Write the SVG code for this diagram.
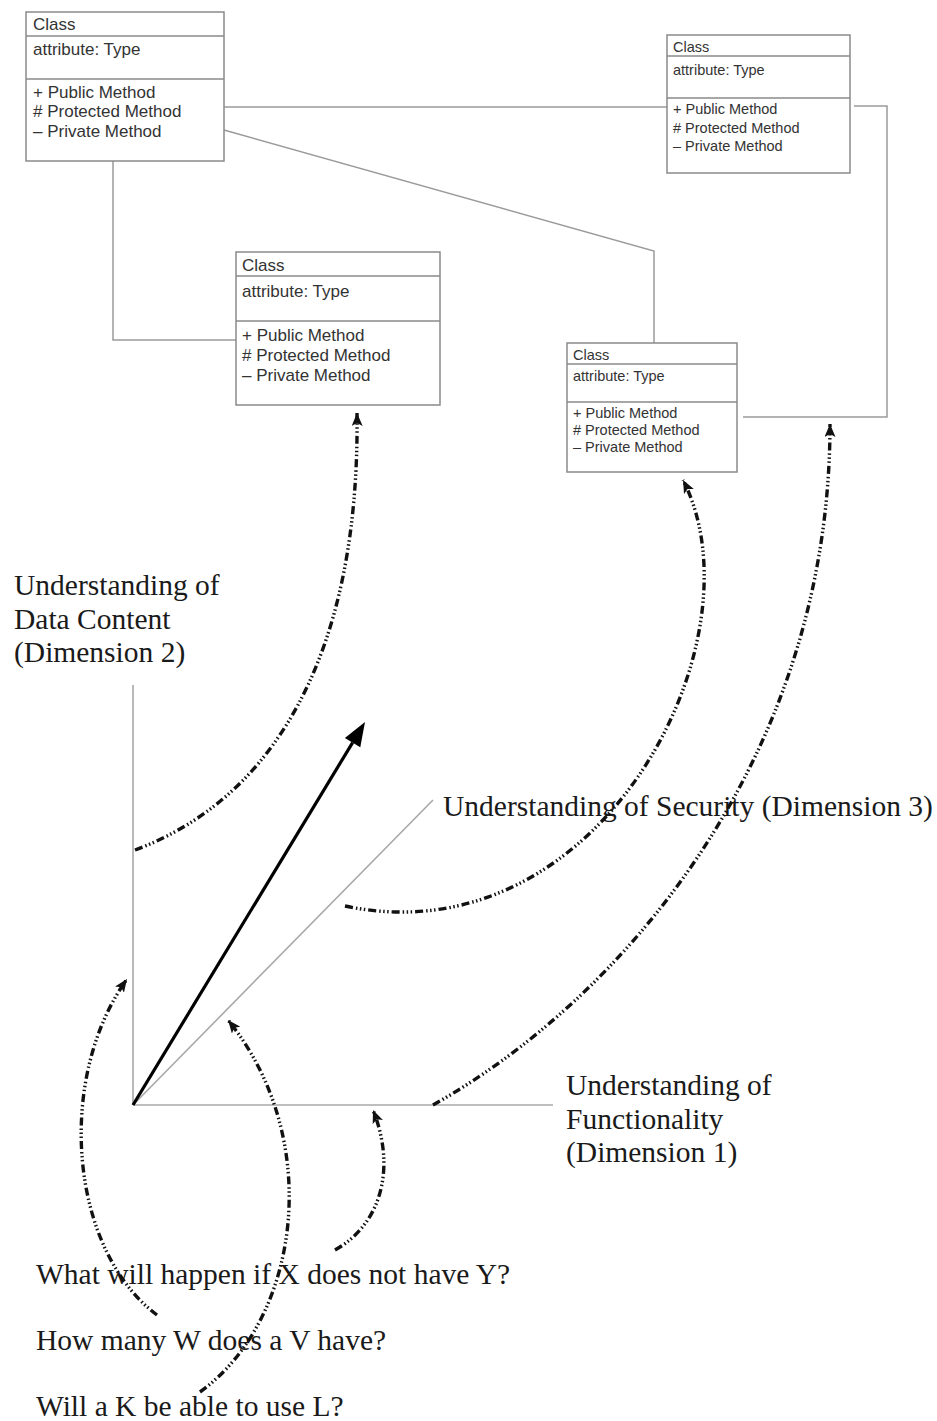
<svg xmlns="http://www.w3.org/2000/svg" width="937" height="1421" viewBox="0 0 937 1421">
<style>
.box{fill:#fff;stroke:#8a8a8a;stroke-width:1.5}
.div{stroke:#8a8a8a;stroke-width:1.5}
.ct{font-family:"Liberation Sans",Arial,sans-serif;fill:#333}
.conn{fill:none;stroke:#9a9a9a;stroke-width:1.5}
.axis{fill:none;stroke:#a8a8a8;stroke-width:1.6}
.lbl{font-family:"Liberation Serif","Times New Roman",serif;font-size:29.5px;fill:#1a1a1a}
.dash{fill:none;stroke:#111;stroke-width:3.4;stroke-dasharray:8 3 1.5 2.5 1.5 2.5 1.5 3;marker-end:url(#ah)}
</style>
<defs>
<marker id="ah" markerUnits="userSpaceOnUse" viewBox="0 0 13 11" refX="13" refY="5.5" markerWidth="13" markerHeight="11" orient="auto">
<path d="M0,0 L13,5.5 L0,11 L3,5.5 Z" fill="#111"/>
</marker>
</defs>
<rect width="937" height="1421" fill="#fff"/>
<g id="connectors">
<polyline class="conn" points="224,107 667,107"/>
<polyline class="conn" points="224,130 654,251 654,343"/>
<polyline class="conn" points="113,161 113,340 236,340"/>
<polyline class="conn" points="854,106 887,106 887,417 743,417"/>
</g>
<g id="class1">
<rect class="box" x="26" y="12" width="198" height="149"/>
<line class="div" x1="26" y1="36" x2="224" y2="36"/>
<line class="div" x1="26" y1="79" x2="224" y2="79"/>
<text class="ct" font-size="17" x="33" y="30">Class</text>
<text class="ct" font-size="17" x="33" y="55">attribute: Type</text>
<text class="ct" font-size="17" x="33" y="98">+ Public Method</text>
<text class="ct" font-size="17" x="33" y="117"># Protected Method</text>
<text class="ct" font-size="17" x="33" y="137">– Private Method</text>
</g>
<g id="class2">
<rect class="box" x="667" y="35" width="183" height="138"/>
<line class="div" x1="667" y1="56" x2="850" y2="56"/>
<line class="div" x1="667" y1="98" x2="850" y2="98"/>
<text class="ct" font-size="14.5" x="673" y="52">Class</text>
<text class="ct" font-size="14.5" x="673" y="75">attribute: Type</text>
<text class="ct" font-size="14.5" x="673" y="114">+ Public Method</text>
<text class="ct" font-size="14.5" x="673" y="133"># Protected Method</text>
<text class="ct" font-size="14.5" x="673" y="151">– Private Method</text>
</g>
<g id="class3">
<rect class="box" x="236" y="252" width="204" height="153"/>
<line class="div" x1="236" y1="276" x2="440" y2="276"/>
<line class="div" x1="236" y1="321" x2="440" y2="321"/>
<text class="ct" font-size="17" x="242" y="271">Class</text>
<text class="ct" font-size="17" x="242" y="297">attribute: Type</text>
<text class="ct" font-size="17" x="242" y="341">+ Public Method</text>
<text class="ct" font-size="17" x="242" y="361"># Protected Method</text>
<text class="ct" font-size="17" x="242" y="381">– Private Method</text>
</g>
<g id="class4">
<rect class="box" x="567" y="343" width="170" height="129"/>
<line class="div" x1="567" y1="364" x2="737" y2="364"/>
<line class="div" x1="567" y1="402" x2="737" y2="402"/>
<text class="ct" font-size="14.5" x="573" y="360">Class</text>
<text class="ct" font-size="14.5" x="573" y="381">attribute: Type</text>
<text class="ct" font-size="14.5" x="573" y="418">+ Public Method</text>
<text class="ct" font-size="14.5" x="573" y="435"># Protected Method</text>
<text class="ct" font-size="14.5" x="573" y="452">– Private Method</text>
</g>
<g id="axes">
<line class="axis" x1="133" y1="685" x2="133" y2="1105"/>
<line class="axis" x1="133" y1="1105" x2="553" y2="1105"/>
<line class="axis" x1="133" y1="1105" x2="433" y2="800"/>
<line x1="133" y1="1105" x2="352.6" y2="742.6" stroke="#000" stroke-width="3.2"/>
<polygon points="365,722 360.3,747.3 344.9,737.9" fill="#000"/>
</g>
<g id="labels">
<text class="lbl" x="14" y="595">Understanding of</text>
<text class="lbl" x="14" y="629">Data Content</text>
<text class="lbl" x="14" y="662">(Dimension 2)</text>
<text class="lbl" x="443" y="816">Understanding of Security (Dimension 3)</text>
<text class="lbl" x="566" y="1095">Understanding of</text>
<text class="lbl" x="566" y="1129">Functionality</text>
<text class="lbl" x="566" y="1162">(Dimension 1)</text>
<text class="lbl" x="36" y="1284">What will happen if X does not have Y?</text>
<text class="lbl" x="36" y="1350">How many W does a V have?</text>
<text class="lbl" x="36" y="1416">Will a K be able to use L?</text>
</g>
<g id="dashed-connectors">
<path class="dash" d="M135,850 C270,800 360,660 357,413"/>
<path class="dash" d="M345,906 C600,960 765,640 683,480"/>
<path class="dash" d="M433,1105 C620,1000 830,760 830,424"/>
<path class="dash" d="M157,1315 C70,1250 55,1080 127,979"/>
<path class="dash" d="M200,1392 C300,1320 325,1140 228,1020"/>
<path class="dash" d="M335,1250 C380,1225 397,1170 373,1110"/>
</g>
</svg>
